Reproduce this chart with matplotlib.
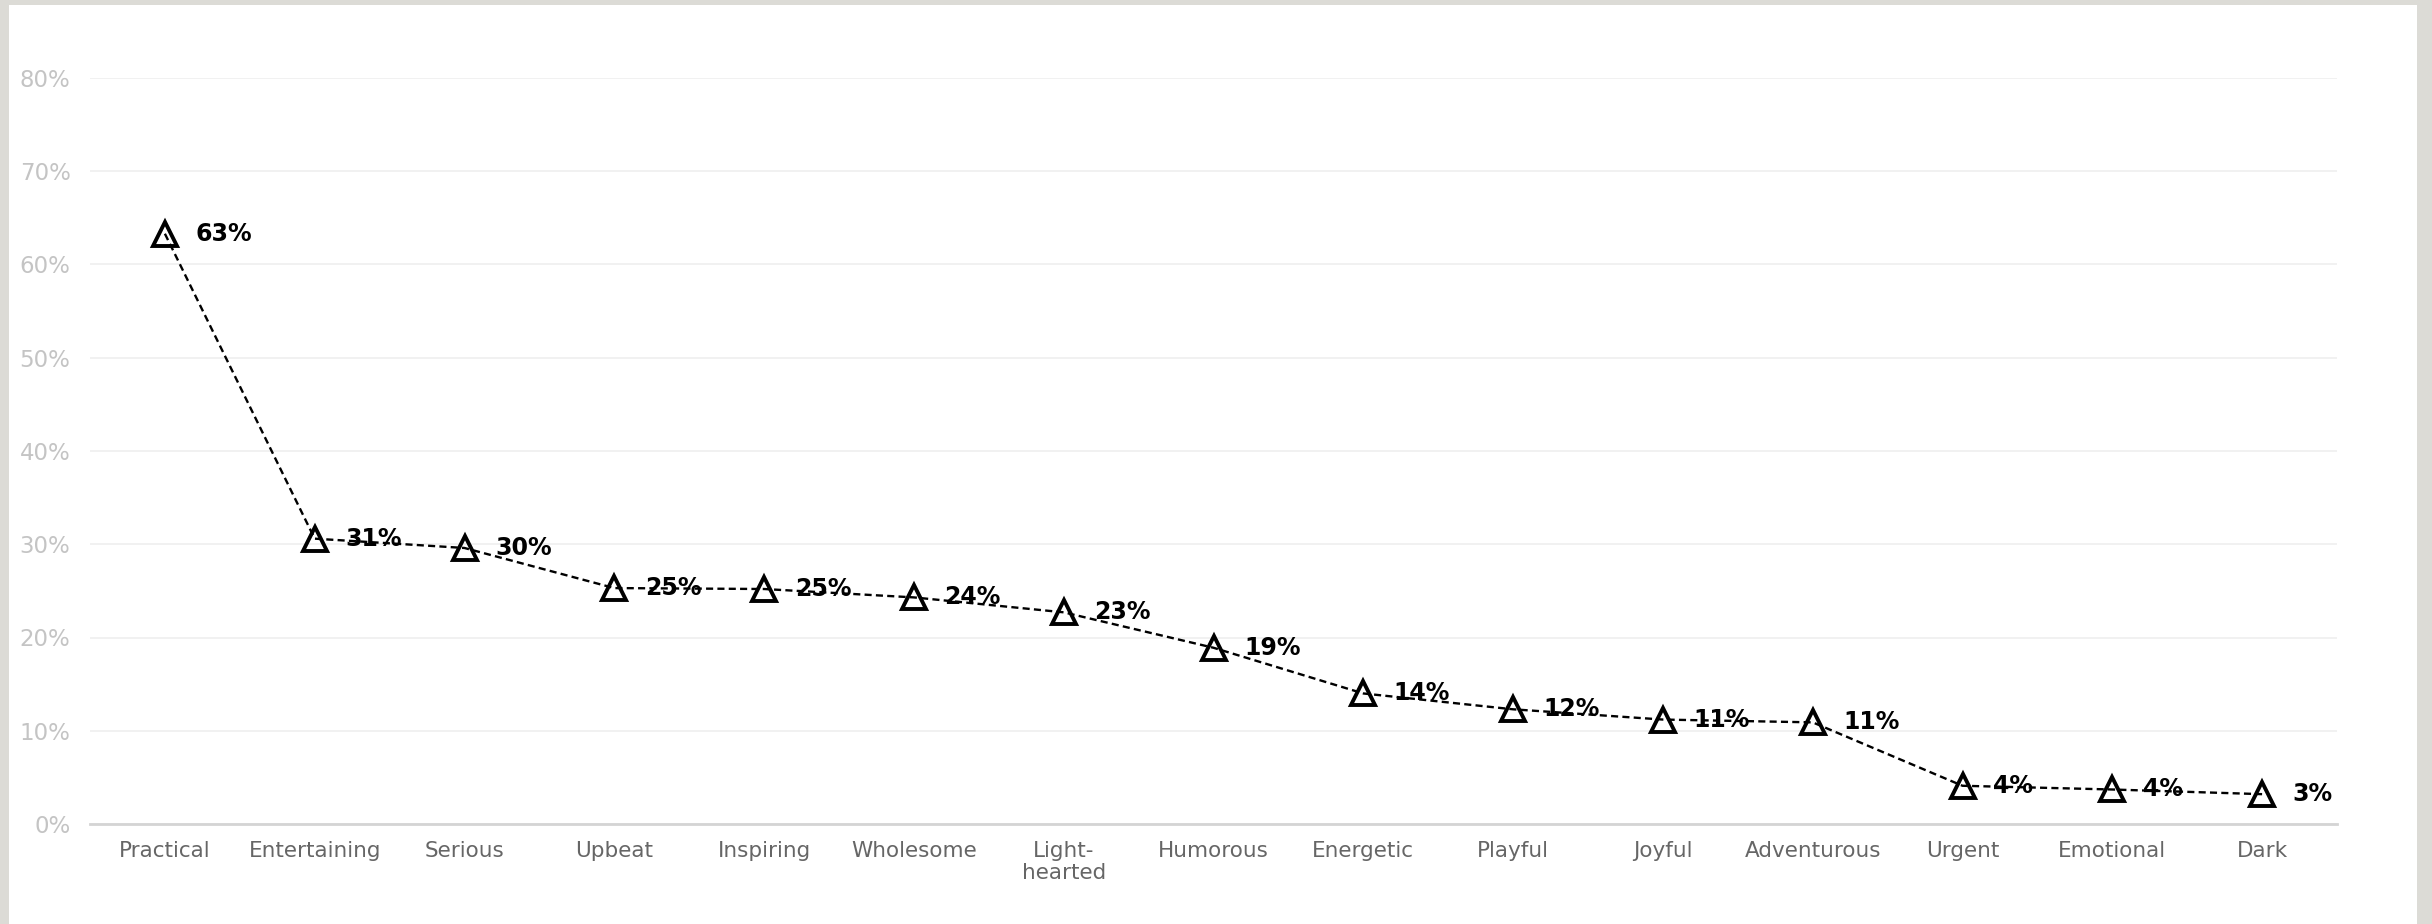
import matplotlib
matplotlib.use("Agg")
import matplotlib.pyplot as plt
from matplotlib.patches import Rectangle
from matplotlib.ticker import FuncFormatter, MultipleLocator

categories = ["Practical", "Entertaining", "Serious", "Upbeat", "Inspiring",
              "Wholesome", "Light-\nhearted", "Humorous", "Energetic", "Playful",
              "Joyful", "Adventurous", "Urgent", "Emotional", "Dark"]
values = [63.3, 30.6, 29.6, 25.3, 25.2, 24.3, 22.7, 18.9, 14.0, 12.3,
          11.2, 10.9, 4.1, 3.7, 3.2]

W, H, DPI = 2432, 924, 100
fig = plt.figure(figsize=(W / DPI, H / DPI), dpi=DPI)
fig.patch.set_facecolor("#dcdbd6")
# white page inside the grey frame
page = Rectangle((9 / W, 0), (2417 - 9) / W, (924 - 5) / H,
                 transform=fig.transFigure, facecolor="white",
                 edgecolor="none", zorder=-10)
fig.add_artist(page)

ax = fig.add_axes([90 / W, 1 - 824 / H, (2337 - 90) / W, (824 - 78) / H])
ax.set_zorder(1)
ax.set_facecolor("none")

x = list(range(len(categories)))
ax.plot(x, values, color="black", lw=1.7, linestyle=(0, (3, 1.8)),
        marker="^", markersize=17, markerfacecolor="none",
        markeredgecolor="black", markeredgewidth=2.8, zorder=3)

for xi, v in zip(x, values):
    ax.annotate(f"{v:.0f}%", (xi, v), xytext=(22, 0), textcoords="offset points",
                ha="left", va="center", fontsize=17, fontweight="bold",
                color="black", zorder=2)

ax.set_xlim(-0.5, len(categories) - 0.5)
ax.set_ylim(0, 80)
ax.yaxis.set_major_locator(MultipleLocator(10))
ax.yaxis.set_major_formatter(FuncFormatter(lambda v, _: f"{v:.0f}%"))
ax.set_xticks(x)
ax.set_xticklabels(categories, linespacing=1.15)

ax.grid(axis="y", color="#efefef", lw=1.2, zorder=0)
ax.set_axisbelow(True)
for side in ("top", "right", "left"):
    ax.spines[side].set_visible(False)
ax.spines["bottom"].set_color("#d4d4d4")
ax.spines["bottom"].set_linewidth(2)
ax.spines["bottom"].set_zorder(1)

ax.tick_params(axis="y", length=0, pad=14, labelsize=16.5, labelcolor="#c4c4c4")
ax.tick_params(axis="x", length=0, pad=12, labelsize=15.5, labelcolor="#666666")

fig.savefig("out.png", dpi=DPI, facecolor=fig.get_facecolor())
